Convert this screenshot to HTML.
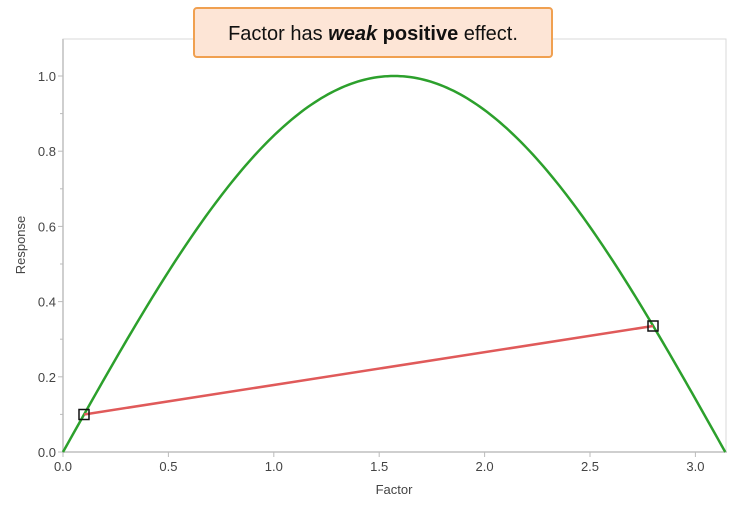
<!DOCTYPE html>
<html><head><style>
body{margin:0;background:#fff;width:750px;height:515px;overflow:hidden;font-family:"Liberation Sans",sans-serif}
</style></head><body>
<svg id="s" width="750" height="515" xmlns="http://www.w3.org/2000/svg">
<rect x="63" y="39" width="663" height="413" fill="none" stroke="#d9d9d9" stroke-width="1"/>
<line x1="63" y1="39" x2="63" y2="453" stroke="#cfcfcf" stroke-width="2"/>
<line x1="62" y1="452" x2="727" y2="452" stroke="#cfcfcf" stroke-width="2"/>
<g id="ticks" stroke="#bbb" stroke-width="1"></g>
<g id="lab" fill="#444" font-size="13"></g>
<text x="394" y="494" font-size="13" fill="#444" text-anchor="middle">Factor</text>
<text transform="translate(25,245) rotate(-90)" font-size="13" fill="#444" text-anchor="middle">Response</text>
<path id="sin" fill="none" stroke="#2ca02c" stroke-width="2.5"/>
<line x1="84.1" y1="414.5" x2="653" y2="326" stroke="#e05a5a" stroke-width="2.5"/>
<rect x="79" y="409.5" width="10" height="10" fill="none" stroke="#111" stroke-width="1.5"/>
<rect x="648" y="321" width="10" height="10" fill="none" stroke="#111" stroke-width="1.5"/>
<rect x="194" y="8" width="358" height="49" rx="3" fill="#fde5d6" stroke="#f0a050" stroke-width="2"/>
<text x="373" y="40" font-size="20" fill="#111" text-anchor="middle">Factor has <tspan font-weight="bold" font-style="italic">weak</tspan> <tspan font-weight="bold">positive</tspan> effect.</text>
</svg>
<script>
var X=function(v){return 63+v*210.8},Y=function(v){return 452-v*376};
var d="";for(var i=0;i<=200;i++){var t=Math.PI*i/200;d+=(i?"L":"M")+X(t).toFixed(2)+" "+Y(Math.sin(t)).toFixed(2);}
document.getElementById("sin").setAttribute("d",d);
var tk=document.getElementById("ticks"),lb=document.getElementById("lab"),ns="http://www.w3.org/2000/svg";
function ln(a,b,c,e){var l=document.createElementNS(ns,"line");l.setAttribute("x1",a);l.setAttribute("y1",b);l.setAttribute("x2",c);l.setAttribute("y2",e);tk.appendChild(l);}
function tx(x,y,s,anc){var t=document.createElementNS(ns,"text");t.setAttribute("x",x);t.setAttribute("y",y);t.setAttribute("text-anchor",anc);t.textContent=s;lb.appendChild(t);}
for(var i=0;i<=6;i++){var x=X(i*0.5);ln(x,452,x,457);tx(x,471,(i*0.5).toFixed(1),"middle");}
for(var i=0;i<=10;i++){var y=Y(i*0.1);if(i%2==0){ln(58,y,63,y);tx(56,y+5,(i*0.1).toFixed(1),"end");}else ln(60,y,63,y);}
</script>
</body></html>
